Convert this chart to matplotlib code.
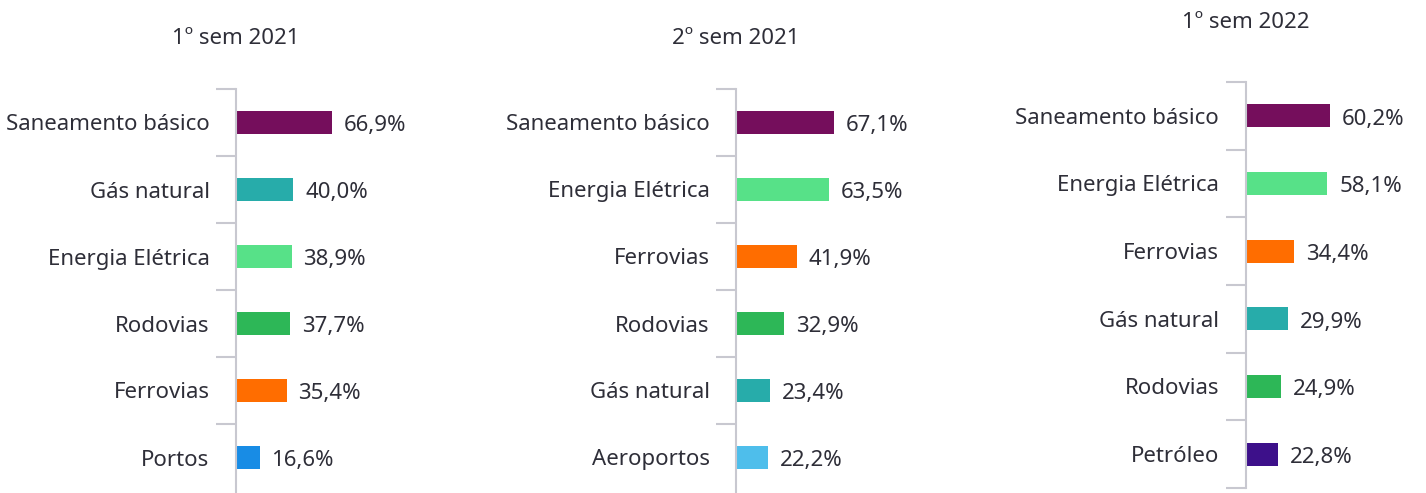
import matplotlib
matplotlib.use('Agg')
import matplotlib.pyplot as plt
import matplotlib.transforms as mtransforms
import numpy as np

# --- data ---
titles = ['1º sem 2021', '2º sem 2021', '1º sem 2022']

cats_1s21 = ['Saneamento básico', 'Gás natural', 'Energia Elétrica', 'Rodovias', 'Ferrovias', 'Portos']
vals_1s21 = [66.9, 40.0, 38.9, 37.7, 35.4, 16.6]

cats_2s21 = ['Saneamento básico', 'Energia Elétrica', 'Ferrovias', 'Rodovias', 'Gás natural', 'Aeroportos']
vals_2s21 = [67.1, 63.5, 41.9, 32.9, 23.4, 22.2]

cats_1s22 = ['Saneamento básico', 'Energia Elétrica', 'Ferrovias', 'Gás natural', 'Rodovias', 'Petróleo']
vals_1s22 = [60.2, 58.1, 34.4, 29.9, 24.9, 22.8]

sector_colors = {
    'Saneamento básico': '#750E5C',
    'Gás natural': '#27ACAA',
    'Energia Elétrica': '#57E188',
    'Rodovias': '#2DB757',
    'Ferrovias': '#FF6D00',
    'Portos': '#188CE5',
    'Aeroportos': '#4EBEEB',
    'Petróleo': '#3D108A',
}

TEXT = '#2E2E38'
AXIS = '#C8C8D0'
FS = 16
plt.rcParams['font.family'] = ['Noto Sans', 'DejaVu Sans']

W, H = 1426, 493
fig = plt.figure(figsize=(W / 100, H / 100), dpi=100)

# panel placement in pixels: spine x, width of 100%, top, bottom, title y, tick at bottom?
panels = [
    (cats_1s21, vals_1s21, 236, 143, 89, 493, 39, False),
    (cats_2s21, vals_2s21, 736, 146, 89, 493, 39, False),
    (cats_1s22, vals_1s22, 1245.5, 141, 82, 488, 22, True),
]
spacing = [67, 67, 67.7]

# small downward nudge of the category labels (text sits a bit below bar centre)
shift = mtransforms.ScaledTranslation(0, -5 / 100, fig.dpi_scale_trans)

for i, (cats, vals, x0, w, top, bot, ty, last_tick) in enumerate(panels):
    ax = fig.add_axes([x0 / W, 1 - bot / H, w / W, (bot - top) / H])
    n = len(cats)
    y = np.arange(n)
    colors = [sector_colors[c] for c in cats]
    ax.barh(y, vals, height=0.34, color=colors)
    ybot = -0.5 + (bot - top) / spacing[i]
    ax.set_ylim(ybot, -0.5)
    ax.set_xlim(0, 100)

    for yi, v in zip(y, vals):
        ax.annotate(f'{v:.1f}%'.replace('.', ','), xy=(v, yi), xytext=(8.5, -2.5),
                    textcoords='offset points', va='center', ha='left',
                    fontsize=FS, color=TEXT)

    ax.set_yticks(y)
    ax.set_yticklabels(cats, fontsize=FS, color=TEXT)
    for lbl in ax.get_yticklabels():
        lbl.set_transform(lbl.get_transform() + shift)
    bounds = np.arange(n + 1) - 0.5 if last_tick else np.arange(n) - 0.5
    ax.set_yticks(bounds, minor=True)
    ax.tick_params(axis='y', which='major', length=0, pad=19)
    ax.tick_params(axis='y', which='minor', length=14.5, width=1.5, color=AXIS)
    ax.set_xticks([])
    for s in ['top', 'right', 'bottom']:
        ax.spines[s].set_visible(False)
    ax.spines['left'].set_color(AXIS)
    ax.spines['left'].set_linewidth(1.5)
    ax.patch.set_visible(False)

    fig.text(x0 / W, 1 - ty / H, titles[i], ha='center', va='center',
             fontsize=FS, color=TEXT)

fig.savefig('out.png', dpi=100)
